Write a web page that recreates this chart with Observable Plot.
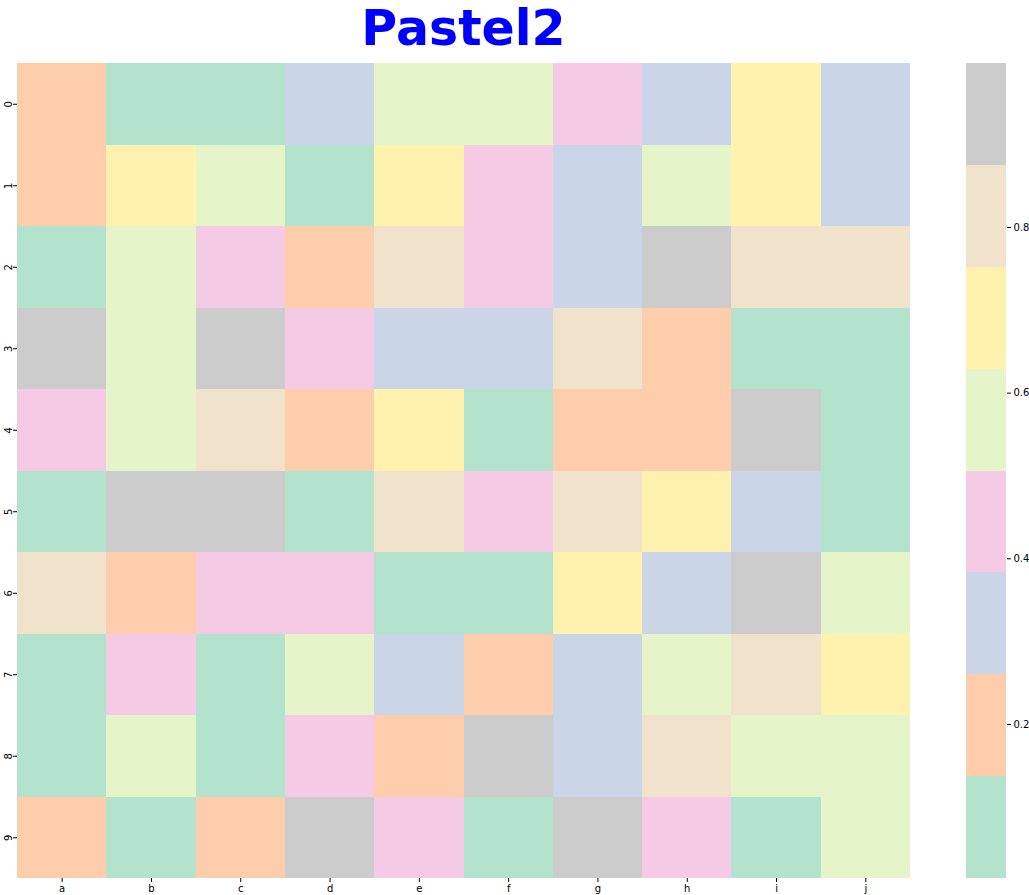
<!DOCTYPE html>
<html>
<head>
<meta charset="utf-8">
<script src="https://cdn.jsdelivr.net/npm/d3@7"></script>
<script src="https://cdn.jsdelivr.net/npm/@observablehq/plot@0.6"></script>
<style>
  html, body { margin: 0; padding: 0; background: #fff; }
  #wrap { position: relative; width: 1029px; height: 895px; overflow: hidden; }
  #title { position: absolute; left: 17px; width: 893px; top: 4px; text-align: center; line-height: 50px;
    font-family: "Comic Sans MS", "DejaVu Sans", sans-serif; font-weight: bold; font-size: 49px; color: #0000ff; }
  #main { position: absolute; left: 0; top: 0; }
  #cbar { position: absolute; left: 940px; top: 0; }
</style>
</head>
<body>
<div id="wrap">
  <div id="main"></div>
  <div id="cbar"></div>
  <div id="title">Pastel2</div>
</div>
<script>
const columns = ["a","b","c","d","e","f","g","h","i","j"];
const rows = ["0","1","2","3","4","5","6","7","8","9"];
// colour bin (0..7) of each cell; converted to a representative value
const bins = [
  [1,0,0,2,4,4,3,2,5,2],
  [1,5,4,0,5,3,2,4,5,2],
  [0,4,3,1,6,3,2,7,6,6],
  [7,4,7,3,2,2,6,1,0,0],
  [3,4,6,1,5,0,1,1,7,0],
  [0,7,7,0,6,3,6,5,2,0],
  [6,1,3,3,0,0,5,2,7,4],
  [0,3,0,4,2,1,2,4,6,5],
  [0,4,0,3,1,7,2,6,4,4],
  [1,0,1,7,3,0,7,3,0,4]
];
const vmin = 0.014, vmax = 0.998;
const step = (vmax - vmin) / 8;
const thresholds = d3.range(1, 8).map(i => vmin + i * step);
const colors = d3.schemePastel2;

const cells = [];
rows.forEach((r, i) => columns.forEach((c, j) => {
  cells.push({row: r, col: c, value: vmin + (bins[i][j] + 0.5) * step});
}));

const font = "'DejaVu Sans', sans-serif";

const main = Plot.plot({
  width: 930, height: 895,
  marginLeft: 17, marginRight: 20, marginTop: 63, marginBottom: 17,
  style: {fontFamily: font, fontSize: "10px", color: "#000", background: "transparent"},
  x: {domain: columns, padding: 0, round: false, label: null, tickSize: 4, tickPadding: 2},
  y: {domain: rows, padding: 0, round: false, label: null, tickSize: 4, tickPadding: 2, tickRotate: -90},
  color: {type: "threshold", domain: thresholds, range: colors},
  marks: [
    Plot.cell(cells, {x: "col", y: "row", fill: "value", inset: 0, shapeRendering: "crispEdges"})
  ]
});
document.getElementById("main").appendChild(main);

const bands = d3.range(8).map(i => ({y1: vmin + i * step, y2: vmin + (i + 1) * step, v: vmin + (i + 0.5) * step}));
const cbarTicks = [0.2, 0.4, 0.6, 0.8];
const cbar = Plot.plot({
  width: 89, height: 895,
  marginLeft: 26, marginRight: 23, marginTop: 63, marginBottom: 17,
  style: {fontFamily: font, fontSize: "10px", color: "#000", background: "transparent"},
  x: {axis: null, domain: [0, 1]},
  y: {domain: [vmin, vmax], axis: "right", ticks: cbarTicks, tickFormat: d3.format(".1f"), label: null, tickSize: 4, tickPadding: 3},
  color: {type: "threshold", domain: thresholds, range: colors},
  marks: [
    Plot.rect(bands, {x1: 0, x2: 1, y1: "y1", y2: "y2", fill: "v", shapeRendering: "crispEdges"})
  ]
});
document.getElementById("cbar").appendChild(cbar);
</script>
</body>
</html>
